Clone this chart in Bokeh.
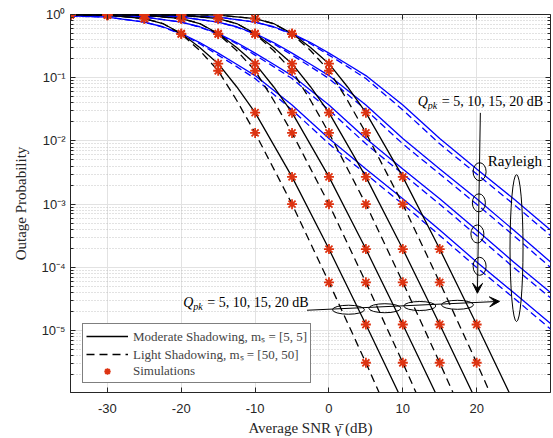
from bokeh.plotting import figure
from bokeh.models import (Range1d, FixedTicker, LogAxis, LinearAxis, CustomJSTickFormatter,
                          Legend, LegendItem, Label, Arrow, VeeHead)
from bokeh.embed import file_html
from bokeh.resources import INLINE

# ------------------------------------------------------------------ data
snr_ticks = [-30, -20, -10, 0, 10, 20]
prob_ticks = [1e-5, 1e-4, 1e-3, 1e-2, 1e-1, 1.0]
prob_minor = [2e-6, 3e-6, 4e-6, 5e-6, 6e-6, 7e-6, 8e-6, 9e-6,
              2e-5, 3e-5, 4e-5, 5e-5, 6e-5, 7e-5, 8e-5, 9e-5,
              2e-4, 3e-4, 4e-4, 5e-4, 6e-4, 7e-4, 8e-4, 9e-4,
              2e-3, 3e-3, 4e-3, 5e-3, 6e-3, 7e-3, 8e-3, 9e-3,
              2e-2, 3e-2, 4e-2, 5e-2, 6e-2, 7e-2, 8e-2, 9e-2,
              0.2, 0.3, 0.4, 0.5, 0.6, 0.7, 0.8, 0.9]

# analytical, moderate (solid) / light (dashed) shadowing, Q_pk = 5,10,15,20 dB
snr_black_q5 = [-35, -30, -25, -22.5, -20, -17.5, -15, -12.5, -10, -5, 0, 5, 10]
mod_q5 = [0.999, 0.975, 0.86, 0.72, 0.50, 0.30, 0.167, 0.072, 0.028, 2.7e-3, 1.95e-4, 1.25e-5, 7.5e-7]
light_q5 = [0.999, 0.975, 0.86, 0.72, 0.49, 0.27, 0.129, 0.044, 0.0134, 1.0e-3, 5.8e-5, 3.1e-6, 1.5e-7]

snr_black_q10 = [-35, -30, -25, -20, -17.5, -15, -12.5, -10, -7.5, -5, 0, 5, 10, 15]
mod_q10 = [1.0, 0.999, 0.975, 0.86, 0.72, 0.50, 0.30, 0.167, 0.072, 0.028, 2.7e-3, 1.95e-4, 1.25e-5, 7.5e-7]
light_q10 = [1.0, 0.999, 0.975, 0.86, 0.72, 0.49, 0.27, 0.129, 0.044, 0.0134, 1.0e-3, 5.8e-5, 3.1e-6, 1.5e-7]

snr_black_q15 = [-35, -25, -20, -15, -12.5, -10, -7.5, -5, -2.5, 0, 5, 10, 15, 20]
mod_q15 = [1.0, 0.999, 0.975, 0.86, 0.72, 0.50, 0.30, 0.167, 0.072, 0.028, 2.7e-3, 1.95e-4, 1.25e-5, 7.5e-7]
light_q15 = [1.0, 0.999, 0.975, 0.86, 0.72, 0.49, 0.27, 0.129, 0.044, 0.0134, 1.0e-3, 5.8e-5, 3.1e-6, 1.5e-7]

snr_black_q20 = [-35, -20, -15, -10, -7.5, -5, -2.5, 0, 2.5, 5, 10, 15, 20, 25]
mod_q20 = [1.0, 0.999, 0.975, 0.86, 0.72, 0.50, 0.30, 0.167, 0.072, 0.028, 2.7e-3, 1.95e-4, 1.25e-5, 7.5e-7]
light_q20 = [1.0, 0.999, 0.975, 0.86, 0.72, 0.49, 0.27, 0.129, 0.044, 0.0134, 1.0e-3, 5.8e-5, 3.1e-6, 1.5e-7]

# Rayleigh (blue), solid / dashed
snr_blue_q5 = [-35, -30, -25, -22.5, -20, -17.5, -15, -12.5, -10, -5, 0, 5, 10, 15, 20, 25, 30]
ray_q5 = [0.95, 0.91, 0.76, 0.64, 0.50, 0.36, 0.245, 0.163, 0.108, 0.037, 0.0109, 3.6e-3, 1.22e-3, 3.9e-4, 1.22e-4, 4.0e-5, 1.3e-5]
ray_d_q5 = [0.95, 0.91, 0.76, 0.63, 0.49, 0.345, 0.228, 0.15, 0.097, 0.031, 9.0e-3, 3.0e-3, 1.0e-3, 3.2e-4, 1.0e-4, 3.3e-5, 1.06e-5]

snr_blue_q10 = [-35, -30, -25, -20, -17.5, -15, -12.5, -10, -7.5, -5, 0, 5, 10, 15, 20, 25, 30]
ray_q10 = [0.97, 0.95, 0.91, 0.76, 0.64, 0.50, 0.36, 0.245, 0.163, 0.108, 0.037, 0.0109, 3.6e-3, 1.22e-3, 3.9e-4, 1.22e-4, 4.0e-5]
ray_d_q10 = [0.97, 0.95, 0.91, 0.76, 0.63, 0.49, 0.345, 0.228, 0.15, 0.097, 0.031, 9.0e-3, 3.0e-3, 1.0e-3, 3.2e-4, 1.0e-4, 3.3e-5]

snr_blue_q15 = [-35, -30, -25, -20, -15, -12.5, -10, -7.5, -5, -2.5, 0, 5, 10, 15, 20, 25, 30]
ray_q15 = [0.98, 0.97, 0.95, 0.91, 0.76, 0.64, 0.50, 0.36, 0.245, 0.163, 0.108, 0.037, 0.0109, 3.6e-3, 1.22e-3, 3.9e-4, 1.22e-4]
ray_d_q15 = [0.98, 0.97, 0.95, 0.91, 0.76, 0.63, 0.49, 0.345, 0.228, 0.15, 0.097, 0.031, 9.0e-3, 3.0e-3, 1.0e-3, 3.2e-4, 1.0e-4]

snr_blue_q20 = [-35, -30, -25, -20, -15, -10, -7.5, -5, -2.5, 0, 2.5, 5, 10, 15, 20, 25, 30]
ray_q20 = [0.99, 0.98, 0.97, 0.95, 0.91, 0.76, 0.64, 0.50, 0.36, 0.245, 0.163, 0.108, 0.037, 0.0109, 3.6e-3, 1.22e-3, 3.9e-4]
ray_d_q20 = [0.99, 0.98, 0.97, 0.95, 0.91, 0.76, 0.63, 0.49, 0.345, 0.228, 0.15, 0.097, 0.031, 9.0e-3, 3.0e-3, 1.0e-3, 3.2e-4]

# simulations
sim_snr_q5 = [-35, -30, -25, -20, -15, -10, -5, 0, 5]
sim_mod_q5 = [0.999, 0.975, 0.86, 0.50, 0.167, 0.028, 2.7e-3, 1.95e-4, 1.25e-5]
sim_light_q5 = [0.999, 0.975, 0.86, 0.49, 0.129, 0.0134, 1.0e-3, 5.8e-5, 3.1e-6]
sim_snr_q10 = [-35, -30, -25, -20, -15, -10, -5, 0, 5, 10]
sim_mod_q10 = [1.0, 0.999, 0.975, 0.86, 0.50, 0.167, 0.028, 2.7e-3, 1.95e-4, 1.25e-5]
sim_light_q10 = [1.0, 0.999, 0.975, 0.86, 0.49, 0.129, 0.0134, 1.0e-3, 5.8e-5, 3.1e-6]
sim_snr_q15 = [-35, -30, -25, -20, -15, -10, -5, 0, 5, 10, 15]
sim_mod_q15 = [1.0, 1.0, 0.999, 0.975, 0.86, 0.50, 0.167, 0.028, 2.7e-3, 1.95e-4, 1.25e-5]
sim_light_q15 = [1.0, 1.0, 0.999, 0.975, 0.86, 0.49, 0.129, 0.0134, 1.0e-3, 5.8e-5, 3.1e-6]
sim_snr_q20 = [-35, -30, -25, -20, -15, -10, -5, 0, 5, 10, 15, 20]
sim_mod_q20 = [1.0, 1.0, 1.0, 0.999, 0.975, 0.86, 0.50, 0.167, 0.028, 2.7e-3, 1.95e-4, 1.25e-5]
sim_light_q20 = [1.0, 1.0, 1.0, 0.999, 0.975, 0.86, 0.49, 0.129, 0.0134, 1.0e-3, 5.8e-5, 3.1e-6]

legend_labels = ["Moderate Shadowing, m\u209b = [5, 5]",
                 "Light Shadowing, m\u209b = [50, 50]",
                 "Simulations"]

# ------------------------------------------------------------------ style
AX = "#262626"
SIM = "#DD3311"
BLUE = "#0000FF"
SERIF = "Liberation Serif"
SANS = "Liberation Sans"

p = figure(width=553, height=438,
           x_range=Range1d(-35, 30), y_range=Range1d(1.05e-6, 1.0),
           y_axis_type="log", output_backend="svg", toolbar_location=None,
           min_border_left=70, min_border_right=3, min_border_top=14, min_border_bottom=46,
           background_fill_color="white", border_fill_color="white")
p.outline_line_color = AX
p.outline_line_width = 1

sup_code = """
const m = {"-":"\u207b","0":"\u2070","1":"\u00b9","2":"\u00b2","3":"\u00b3","4":"\u2074",
           "5":"\u2075","6":"\u2076","7":"\u2077","8":"\u2078","9":"\u2079"};
const e = Math.round(Math.log10(tick));
return "10" + String(e).split("").map(c => m[c]).join("");
"""

yticker = FixedTicker(ticks=prob_ticks, minor_ticks=prob_minor)
xticker = FixedTicker(ticks=snr_ticks)
p.yaxis.ticker = yticker
p.xaxis.ticker = xticker
p.yaxis.formatter = CustomJSTickFormatter(code=sup_code)
p.xaxis.formatter = CustomJSTickFormatter(code="return String(Math.round(tick));")

for ax in (p.xaxis[0], p.yaxis[0]):
    ax.major_tick_in = 5
    ax.major_tick_out = 0
    ax.minor_tick_in = 3
    ax.minor_tick_out = 0
    ax.axis_line_color = AX
    ax.major_tick_line_color = AX
    ax.minor_tick_line_color = AX
    ax.major_label_text_color = AX
    ax.major_label_text_font = SANS
    ax.major_label_text_font_size = "13px"
    ax.axis_label_text_font = SERIF
    ax.axis_label_text_font_style = "normal"
    ax.axis_label_text_font_size = "15px"
    ax.axis_label_text_color = AX
p.xaxis.major_label_standoff = 11
p.xaxis.axis_label_standoff = 4
p.yaxis.major_label_standoff = 5
p.yaxis.axis_label_standoff = 9
p.xaxis.axis_label = "Average SNR \u03b3\u0304 (dB)"
p.yaxis.axis_label = "Outage Probability"

blank = CustomJSTickFormatter(code="return '';")
rax = LogAxis(ticker=yticker, formatter=blank, major_tick_in=5, major_tick_out=0,
              minor_tick_in=3, minor_tick_out=0, axis_line_color=None,
              major_tick_line_color=AX, minor_tick_line_color=AX, major_label_standoff=0)
tax = LinearAxis(ticker=xticker, formatter=blank, major_tick_in=5, major_tick_out=0,
                 minor_tick_in=0, minor_tick_out=0, axis_line_color=None,
                 major_tick_line_color=AX, minor_tick_line_color=None, major_label_standoff=0)
p.add_layout(rax, "right")
p.add_layout(tax, "above")

p.xgrid.grid_line_color = "#e2e2e2"
p.ygrid.grid_line_color = "#e2e2e2"
p.ygrid.minor_grid_line_color = "#b8b8b8"
p.ygrid.minor_grid_line_dash = "1 2"
p.ygrid.minor_grid_line_alpha = 0.8

# ------------------------------------------------------------------ curves
blue_sets = [(snr_blue_q5, ray_q5, ray_d_q5), (snr_blue_q10, ray_q10, ray_d_q10),
             (snr_blue_q15, ray_q15, ray_d_q15), (snr_blue_q20, ray_q20, ray_d_q20)]
for snr, s, d in blue_sets:
    p.line(snr, s, line_color=BLUE, line_width=1.3)
    p.line(snr, d, line_color=BLUE, line_width=1.3, line_dash="7 4")

black_sets = [(snr_black_q5, mod_q5, light_q5), (snr_black_q10, mod_q10, light_q10),
              (snr_black_q15, mod_q15, light_q15), (snr_black_q20, mod_q20, light_q20)]
r_mod = r_light = None
for snr, m, l in black_sets:
    a = p.line(snr, m, line_color="black", line_width=1.3)
    b = p.line(snr, l, line_color="black", line_width=1.3, line_dash="8 5")
    r_mod = r_mod or a
    r_light = r_light or b

sim_sets = [(sim_snr_q5, sim_mod_q5, sim_light_q5), (sim_snr_q10, sim_mod_q10, sim_light_q10),
            (sim_snr_q15, sim_mod_q15, sim_light_q15), (sim_snr_q20, sim_mod_q20, sim_light_q20)]
r_sim = None
for snr, m, l in sim_sets:
    a = p.scatter(snr, m, marker="asterisk", size=10, line_color=SIM, line_width=1.8)
    p.scatter(snr, l, marker="asterisk", size=10, line_color=SIM, line_width=1.8)
    r_sim = r_sim or a

# ------------------------------------------------------------------ annotations
ell = dict(fill_color=None, line_color="black", line_width=1,
           width_units="screen", height_units="screen")
p.ellipse(x=[20.4, 20.3, 20.1, 20.4], y=[3.26e-3, 1.05e-3, 3.38e-4, 1.04e-4],
          width=13, height=18, **ell)
p.ellipse(x=[25.4], y=[2.02e-4], width=13, height=147, **ell)
p.ellipse(x=[2.64, 7.57, 12.3, 17.4], y=[2.14e-5, 2.26e-5, 2.45e-5, 2.56e-5],
          width=32, height=9, **ell)

p.add_layout(Arrow(end=VeeHead(size=10, fill_color="black", line_color="black", line_width=1),
                   x_start=20.5, y_start=0.0278, x_end=20.1, y_end=3.9e-5,
                   line_color="black", line_width=1))
p.add_layout(Arrow(end=VeeHead(size=10, fill_color="black", line_color="black", line_width=1),
                   x_start=-2.97, y_start=2.1e-5, x_end=23.1, y_end=2.9e-5,
                   line_color="black", line_width=1))

def qlabel(x, y):
    base = dict(x=x, y=y, text_font=SERIF, text_color="black", text_baseline="middle")
    p.add_layout(Label(text="Q", text_font_style="italic", text_font_size="14px", **base))
    p.add_layout(Label(text="pk", text_font_style="italic", text_font_size="10px",
                       x_offset=10, y_offset=-4, **base))
    p.add_layout(Label(text="= 5, 10, 15, 20 dB", text_font_size="14px",
                       x_offset=24, **base))

qlabel(12.03, 0.0416)
qlabel(-19.73, 2.78e-5)
p.add_layout(Label(x=21.5, y=4.8e-3, text="Rayleigh", text_font=SERIF, text_font_size="15px",
                   text_baseline="middle", text_color="black"))

legend = Legend(items=[LegendItem(label=legend_labels[0], renderers=[r_mod]),
                       LegendItem(label=legend_labels[1], renderers=[r_light]),
                       LegendItem(label=legend_labels[2], renderers=[r_sim])],
                location=(12, 9), border_line_color="black", border_line_width=1,
                background_fill_color="white", background_fill_alpha=1,
                label_text_font=SERIF, label_text_font_size="13px",
                glyph_width=42, glyph_height=16, label_height=16, label_standoff=5,
                padding=3, spacing=0, margin=0)
p.add_layout(legend)

open("out.html", "w").write(file_html(p, INLINE))
